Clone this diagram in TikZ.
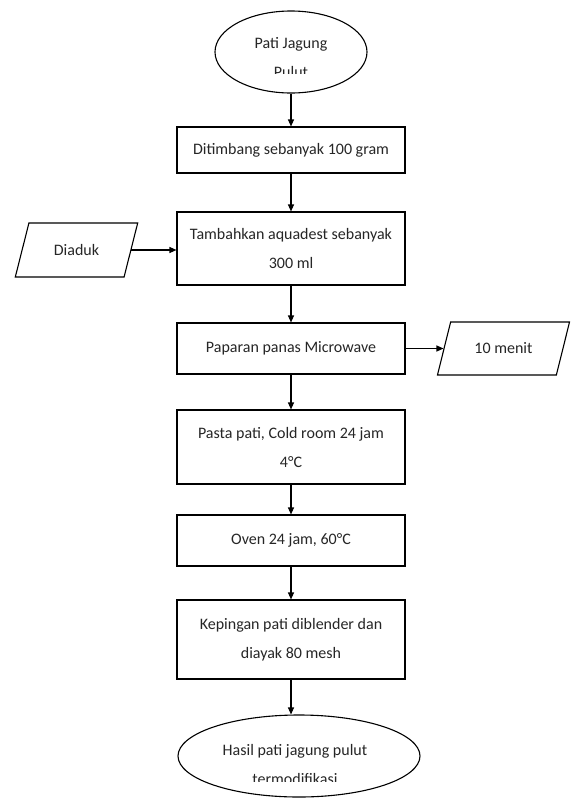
\documentclass[tikz,border=0pt]{standalone}
\usepackage{fontspec}
\setmainfont{Carlito}
\usetikzlibrary{shapes.geometric,arrows.meta}
\begin{document}
\begin{tikzpicture}[x=1pt,y=-1pt,
  every node/.style={text=black!85, font=\fontsize{16}{29}\selectfont},
  stepbox/.style={draw=black, line width=1.1pt, minimum width=228pt,
    align=center, inner sep=0pt},
  terminal/.style={ellipse, draw=black, line width=1.1pt, inner sep=0pt},
  iobox/.style={trapezium, trapezium stretches=true, draw=black,
    line width=1.1pt, inner sep=0pt},
  arr/.style={-{Triangle[length=7pt,width=6pt]}, line width=1.1pt}
]
% page frame
\path[fill=white, use as bounding box] (0,0) rectangle (571,798);

% start terminal
\node[terminal, minimum width=152pt, minimum height=82pt] (start) at (291,52) {};
\begin{scope}
  \clip (200,0) rectangle (380,73);
  \node[anchor=base] (startA) at (291,48) {Pati Jagung};
  \node[anchor=base] (startB) at (291,77) {Pulut};
\end{scope}

% process steps
\node[stepbox, minimum height=46pt] (s1) at (291,150) {Ditimbang sebanyak 100 gram};
\node[stepbox, minimum height=73pt] (s2) at (291,248.5) {Tambahkan aquadest sebanyak\\300 ml};
\node[stepbox, minimum height=51pt] (s3) at (291,348.5) {Paparan panas Microwave};
\node[stepbox, minimum height=74pt] (s4) at (291,447) {Pasta pati, Cold room 24 jam\\4°C};
\node[stepbox, minimum height=51pt] (s5) at (291,540.5) {Oven 24 jam, 60°C};
\node[stepbox, minimum height=79pt] (s6) at (291,639.5) {Kepingan pati diblender dan\\diayak 80 mesh};

% side inputs
\node[iobox, minimum width=123pt, minimum height=54pt,
  trapezium left angle=60, trapezium right angle=120] (stir) at (76.5,250) {Diaduk};
\node[iobox, minimum width=133pt, minimum height=53pt,
  trapezium left angle=57, trapezium right angle=123] (time) at (503.5,348.5) {10 menit};

% end terminal
\node[terminal, minimum width=242pt, minimum height=82pt] (finish) at (299,756) {};
\begin{scope}
  \clip (170,700) rectangle (430,781);
  \node[anchor=base] (finishA) at (295,755) {Hasil pati jagung pulut};
  \node[anchor=base] (finishB) at (295,784) {termodifikasi};
\end{scope}

% connectors
\draw[arr] (start.south) -- (s1.north);
\draw[arr] (s1.south) -- (s2.north);
\draw[arr] (s2.south) -- (s3.north);
\draw[arr] (s3.south) -- (s4.north);
\draw[arr] (s4.south) -- (s5.north);
\draw[arr] (s5.south) -- (s6.north);
\draw[arr] (s6.south) -- (s6.south |- finish.north);
\draw[arr] (stir.right side) -- (stir.right side -| s2.west);
\draw[arr] (s3.east) -- (s3.east -| time.left side);
\end{tikzpicture}
\end{document}
